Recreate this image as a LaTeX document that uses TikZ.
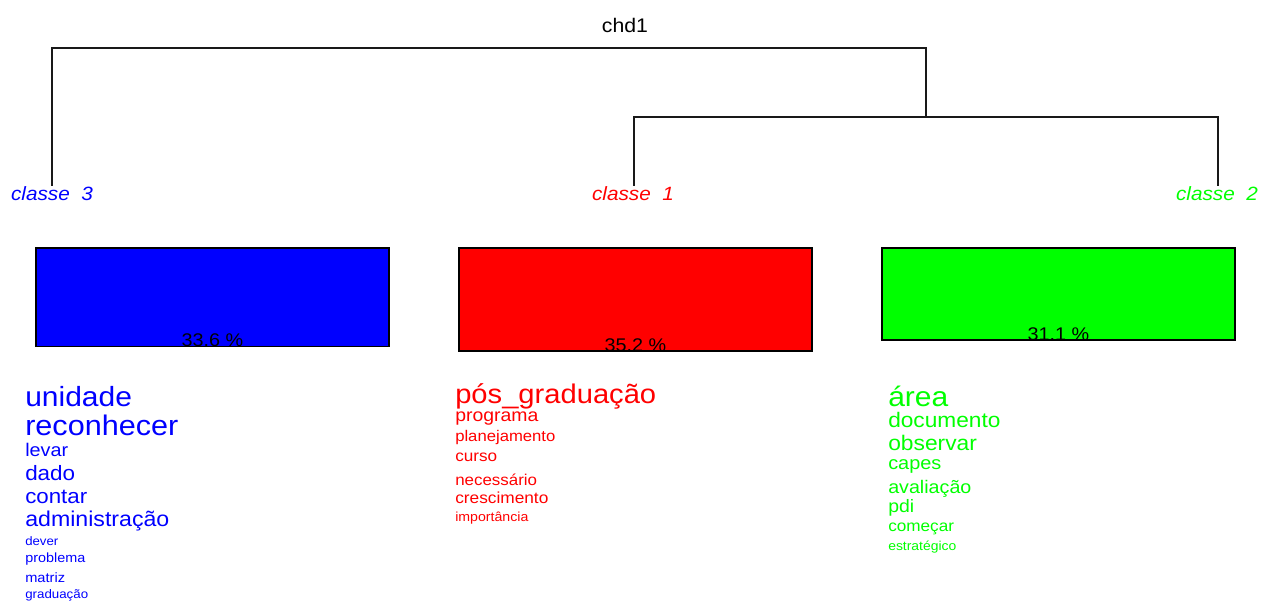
\documentclass[tikz,border=0pt]{standalone}
\usepackage{fontspec}
\setmainfont{Liberation Sans}[FakeStretch=1.08]
\newcommand\pxfont[1]{\fontsize{\fpeval{0.833*#1}pt}{\fpeval{0.95*#1}pt}\selectfont}
\definecolor{cblue}{RGB}{0,0,255}
\definecolor{cred}{RGB}{255,0,0}
\definecolor{cgreen}{RGB}{0,255,0}
\tikzset{
  tree/.style={line width=1.3pt, draw=black!90},
  classbox/.style={draw=black, line width=1.1pt, inner sep=0pt, outer sep=0pt,
    minimum width=264.75pt, anchor=north west},
  pct/.style={anchor=base, inner sep=0pt, text=black},
  clab/.style={anchor=base, inner sep=0pt, font=\itshape\pxfont{17.3}},
  word/.style={anchor=base west, inner sep=0pt},
}
\begin{document}
\begin{tikzpicture}[x=0.75pt, y=-0.75pt]
\useasboundingbox (0,0) rectangle (1262,602);
% title
\node[anchor=base, inner sep=0pt, font=\pxfont{17.7}] (title) at (625,33) {chd1};
% tree
\coordinate (n3) at (52,186);
\coordinate (n1) at (634,186);
\coordinate (n2) at (1218,186);
\coordinate (t12) at (926,48);
\coordinate (j12) at (926,117);
\draw[tree] (n3) |- (t12) -- (j12);
\draw[tree] (n1) |- (j12) -| (n2);
% class labels
\node[clab, text=cblue] (l3) at (52,201) {classe\ \ 3};
\node[clab, text=cred] (l1) at (633,201) {classe\ \ 1};
\node[clab, text=cgreen] (l2) at (1217,201) {classe\ \ 2};
% boxes
\node[classbox, fill=cblue, minimum height=74pt] (b3) at (36,248) {};
\node[classbox, fill=cred, minimum height=77.25pt] (b1) at (459,248) {};
\node[classbox, fill=cgreen, minimum height=69pt] (b2) at (882,248) {};
\node[pct, font=\pxfont{16.5}] (p3) at (b3.south) {33.6 \%};
\node[pct, font=\pxfont{16.5}] (p1) at (b1.south) {35.2 \%};
\node[pct, font=\pxfont{16.5}] (p2) at (b2.south) {31.1 \%};
% words class 3
\begin{scope}[every node/.append style={word, text=cblue}]
\node[font=\pxfont{25}] (w3a) at (25,406) {unidade};
\node[font=\pxfont{25.5}] (w3b) at (25,435) {reconhecer};
\node[font=\pxfont{16.5}] (w3c) at (25,456.5) {levar};
\node[font=\pxfont{18.7}] (w3d) at (25,480) {dado};
\node[font=\pxfont{18.6}] (w3e) at (25,503.5) {contar};
\node[font=\pxfont{19.3}] (w3f) at (25,526) {administração};
\node[font=\pxfont{11}] (w3g) at (25,545) {dever};
\node[font=\pxfont{12}] (w3h) at (25,562.5) {problema};
\node[font=\pxfont{12.2}] (w3i) at (25,582.5) {matriz};
\node[font=\pxfont{11.1}] (w3j) at (25,598) {graduação};
\end{scope}
% words class 1
\begin{scope}[every node/.append style={word, text=cred}]
\node[font=\pxfont{24.3}] (w1a) at (455,403) {pós\_graduação};
\node[font=\pxfont{16.2}] (w1b) at (455,421) {programa};
\node[font=\pxfont{13.9}] (w1c) at (455,441) {planejamento};
\node[font=\pxfont{14.3}] (w1d) at (455,461.5) {curso};
\node[font=\pxfont{14.1}] (w1e) at (455,485.5) {necessário};
\node[font=\pxfont{14.4}] (w1f) at (455,503.5) {crescimento};
\node[font=\pxfont{11.8}] (w1g) at (455,521) {importância};
\end{scope}
% words class 2
\begin{scope}[every node/.append style={word, text=cgreen}]
\node[font=\pxfont{25}] (w2a) at (888,406) {área};
\node[font=\pxfont{18.9}] (w2b) at (888,427) {documento};
\node[font=\pxfont{19}] (w2c) at (888,450) {observar};
\node[font=\pxfont{16.6}] (w2d) at (888,469.5) {capes};
\node[font=\pxfont{16.4}] (w2e) at (888,493) {avaliação};
\node[font=\pxfont{16.2}] (w2f) at (888,512) {pdi};
\node[font=\pxfont{14.3}] (w2g) at (888,531) {começar};
\node[font=\pxfont{11.6}] (w2h) at (888,550) {estratégico};
\end{scope}
\end{tikzpicture}
\end{document}
